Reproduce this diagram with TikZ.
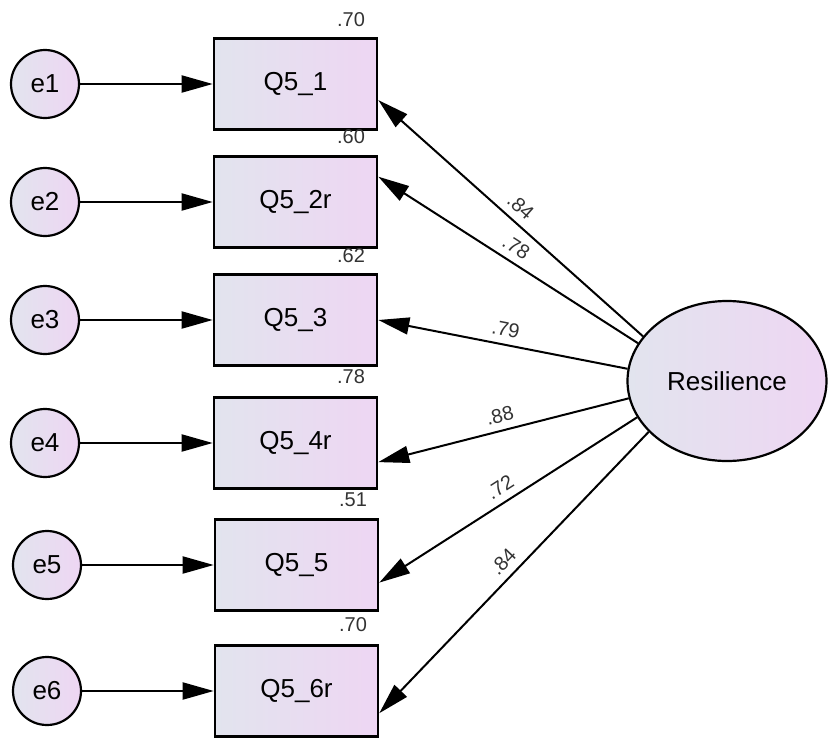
\documentclass[tikz,border=0pt]{standalone}
\usepackage{fontspec}
\setmainfont{Liberation Sans}
\usetikzlibrary{arrows.meta,shapes.geometric}
\definecolor{amosleft}{RGB}{226,228,238}
\definecolor{amosright}{RGB}{238,214,243}

\begin{document}
\begin{tikzpicture}
        [x=1pt, y=-1pt,
        item/.style={draw=black, line width=2.6pt, minimum width=163pt, minimum height=91pt,
                     left color=amosleft, right color=amosright, font=\fontsize{26}{30}\selectfont},
        error/.style={circle, draw=black, line width=2.2pt, minimum size=68pt, inner sep=0pt,
                      left color=amosleft, right color=amosright, font=\fontsize{26}{30}\selectfont},
        latent/.style={ellipse, draw=black, line width=2.2pt, minimum width=199pt, minimum height=160pt,
                       left color=amosleft, right color=amosright, font=\fontsize{26}{30}\selectfont},
        path/.style={line width=2pt, -{Triangle[length=31pt, width=17pt]}},
        est/.style={font=\fontsize{20}{24}\selectfont, text=black!80},
        weight/.style={font=\fontsize{20}{24}\selectfont, text=black!80, sloped, above, midway, inner sep=7pt}]
%
%% Bounding box of the picture:
%%
\useasboundingbox (0,0) rectangle (828,737);
%%
%% Observed variables
%%
\node[item] (q1) at (295.5,84)  {Q5\_1};
\node[item] (q2) at (295.5,202) {Q5\_2r};
\node[item] (q3) at (295.5,320) {Q5\_3};
\node[item] (q4) at (295.5,443) {Q5\_4r};
\node[item] (q5) at (296.5,565) {Q5\_5};
\node[item] (q6) at (296.5,691) {Q5\_6r};
%%
%% Squared multiple correlations
%%
\node[est] (r1) at (351,20)  {.70};
\node[est] (r2) at (351,137) {.60};
\node[est] (r3) at (351,256) {.62};
\node[est] (r4) at (351,377) {.78};
\node[est] (r5) at (353,500) {.51};
\node[est] (r6) at (353,625) {.70};
%%
%% Error terms
%%
\node[error] (e1) at (45,84)  {e1};
\node[error] (e2) at (45,202) {e2};
\node[error] (e3) at (45,320) {e3};
\node[error] (e4) at (45,443) {e4};
\node[error] (e5) at (47,565) {e5};
\node[error] (e6) at (47,691) {e6};
%%
%% Latent variable
%%
\node[latent] (res) at (727,381) {Resilience};
%%
%% Paths from the error terms
%%
\draw[path] (e1) -- (q1);
\draw[path] (e2) -- (q2);
\draw[path] (e3) -- (q3);
\draw[path] (e4) -- (q4);
\draw[path] (e5) -- (q5);
\draw[path] (e6) -- (q6);
%%
%% Loadings
%%
\draw[path] (res.152) -- (q1.-11) node[weight] {.84};
\draw[path] (res.157) -- (q2.17)  node[weight] {.78};
\draw[path] (res.173) -- (q3.east) node[weight] {.79};
\draw[path] (res.190) -- (q4.-13) node[weight] {.88};
\draw[path] (res.202) -- (q5.-12) node[weight] {.72};
\draw[path] (res.213) -- (q6.-15) node[weight] {.84};
%%
\end{tikzpicture}
\end{document}
